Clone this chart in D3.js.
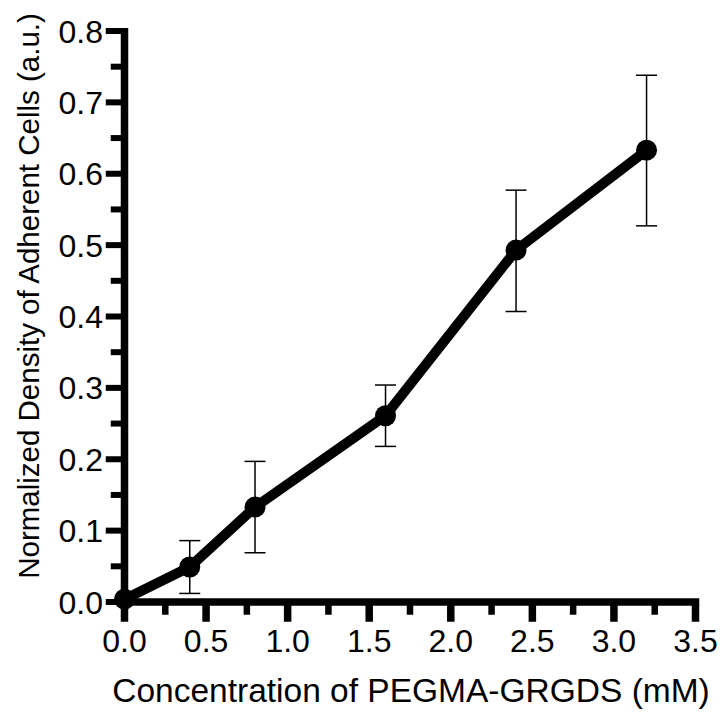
<!DOCTYPE html>
<html>
<head>
<meta charset="utf-8">
<script src="https://cdn.jsdelivr.net/npm/d3@7"></script>
<style>
  html, body { margin: 0; padding: 0; background: #fff; }
  svg { display: block; }
  text { font-family: "Liberation Sans", Arial, Helvetica, sans-serif; fill: #000; }
</style>
</head>
<body>
<script>
// ---- data ----
const concentration = [0, 0.4, 0.8, 1.6, 2.4, 3.2];
const density       = [0.004, 0.049, 0.133, 0.261, 0.493, 0.633];
const errLow        = [0.004, 0.012, 0.069, 0.218, 0.407, 0.527];
const errHigh       = [0.004, 0.086, 0.197, 0.304, 0.577, 0.738];
const xMajorTicks   = [0, 0.5, 1.0, 1.5, 2.0, 2.5, 3.0, 3.5];
const xMinorTicks   = [0.25, 0.75, 1.25, 1.75, 2.25, 2.75, 3.25];
const yMajorTicks   = [0, 0.1, 0.2, 0.3, 0.4, 0.5, 0.6, 0.7, 0.8];
const yMinorTicks   = [0.05, 0.15, 0.25, 0.35, 0.45, 0.55, 0.65, 0.75];
const xTitle = "Concentration of PEGMA-GRGDS (mM)";
const yTitle = "Normalized Density of Adherent Cells (a.u.)";

const W = 720, H = 719;
const svg = d3.select("body").append("svg").attr("width", W).attr("height", H);

const x = d3.scaleLinear().domain([0, 3.5]).range([124.5, 695.5]);
const y = d3.scaleLinear().domain([0, 0.8]).range([602, 31]);

const axisW = 7.5;

// axis lines
svg.append("line")
  .attr("x1", x(0)).attr("x2", x(0))
  .attr("y1", y(0.8) - 3).attr("y2", y(0) + axisW / 2)
  .attr("stroke", "#000").attr("stroke-width", axisW);
svg.append("line")
  .attr("x1", x(0) - axisW / 2).attr("x2", x(3.5) + axisW / 2)
  .attr("y1", y(0)).attr("y2", y(0))
  .attr("stroke", "#000").attr("stroke-width", axisW);

// y ticks
const yAxisLeft = x(0) - axisW / 2;
svg.selectAll(".ymaj").data(yMajorTicks).enter().append("line")
  .attr("x1", yAxisLeft - 15).attr("x2", yAxisLeft + 1)
  .attr("y1", d => y(d)).attr("y2", d => y(d))
  .attr("stroke", "#000").attr("stroke-width", 6);
svg.selectAll(".ymin").data(yMinorTicks).enter().append("line")
  .attr("x1", yAxisLeft - 10).attr("x2", yAxisLeft + 1)
  .attr("y1", d => y(d)).attr("y2", d => y(d))
  .attr("stroke", "#000").attr("stroke-width", 6);
svg.selectAll(".ylab").data(yMajorTicks).enter().append("text")
  .attr("x", 103).attr("y", d => y(d))
  .attr("dy", "0.36em")
  .attr("text-anchor", "end")
  .attr("font-size", 32)
  .text(d => d3.format(".1f")(d));

// x ticks
const xAxisBottom = y(0) + axisW / 2;
svg.selectAll(".xmaj").data(xMajorTicks).enter().append("line")
  .attr("x1", d => x(d)).attr("x2", d => x(d))
  .attr("y1", xAxisBottom - 1).attr("y2", xAxisBottom + 16)
  .attr("stroke", "#000").attr("stroke-width", 7.5);
svg.selectAll(".xmin").data(xMinorTicks).enter().append("line")
  .attr("x1", d => x(d)).attr("x2", d => x(d))
  .attr("y1", xAxisBottom - 1).attr("y2", xAxisBottom + 9)
  .attr("stroke", "#000").attr("stroke-width", 6.5);
svg.selectAll(".xlab").data(xMajorTicks).enter().append("text")
  .attr("x", d => x(d)).attr("y", 652)
  .attr("text-anchor", "middle")
  .attr("font-size", 32)
  .text(d => d3.format(".1f")(d));

// titles
svg.append("text")
  .attr("x", 411).attr("y", 702)
  .attr("text-anchor", "middle")
  .attr("font-size", 33.5)
  .text(xTitle);
svg.append("text")
  .attr("transform", "translate(39,296) rotate(-90)")
  .attr("text-anchor", "middle")
  .attr("font-size", 29.5)
  .text(yTitle);

// data
const pts = concentration.map((c, i) => ({ c, v: density[i], lo: errLow[i], hi: errHigh[i] }));

// error bars
const eb = svg.append("g").attr("stroke", "#000").attr("stroke-width", 1.5);
pts.filter(d => d.hi > d.lo).forEach(d => {
  eb.append("line").attr("x1", x(d.c)).attr("x2", x(d.c)).attr("y1", y(d.lo)).attr("y2", y(d.hi));
  eb.append("line").attr("x1", x(d.c) - 10.5).attr("x2", x(d.c) + 10.5).attr("y1", y(d.lo)).attr("y2", y(d.lo));
  eb.append("line").attr("x1", x(d.c) - 10.5).attr("x2", x(d.c) + 10.5).attr("y1", y(d.hi)).attr("y2", y(d.hi));
});

// line
svg.append("path")
  .datum(pts)
  .attr("fill", "none")
  .attr("stroke", "#000")
  .attr("stroke-width", 10)
  .attr("stroke-linejoin", "round")
  .attr("d", d3.line().x(d => x(d.c)).y(d => y(d.v)));

// markers
svg.selectAll(".pt").data(pts).enter().append("circle")
  .attr("cx", d => x(d.c)).attr("cy", d => y(d.v))
  .attr("r", 10.5)
  .attr("fill", "#000");
</script>
</body>
</html>
